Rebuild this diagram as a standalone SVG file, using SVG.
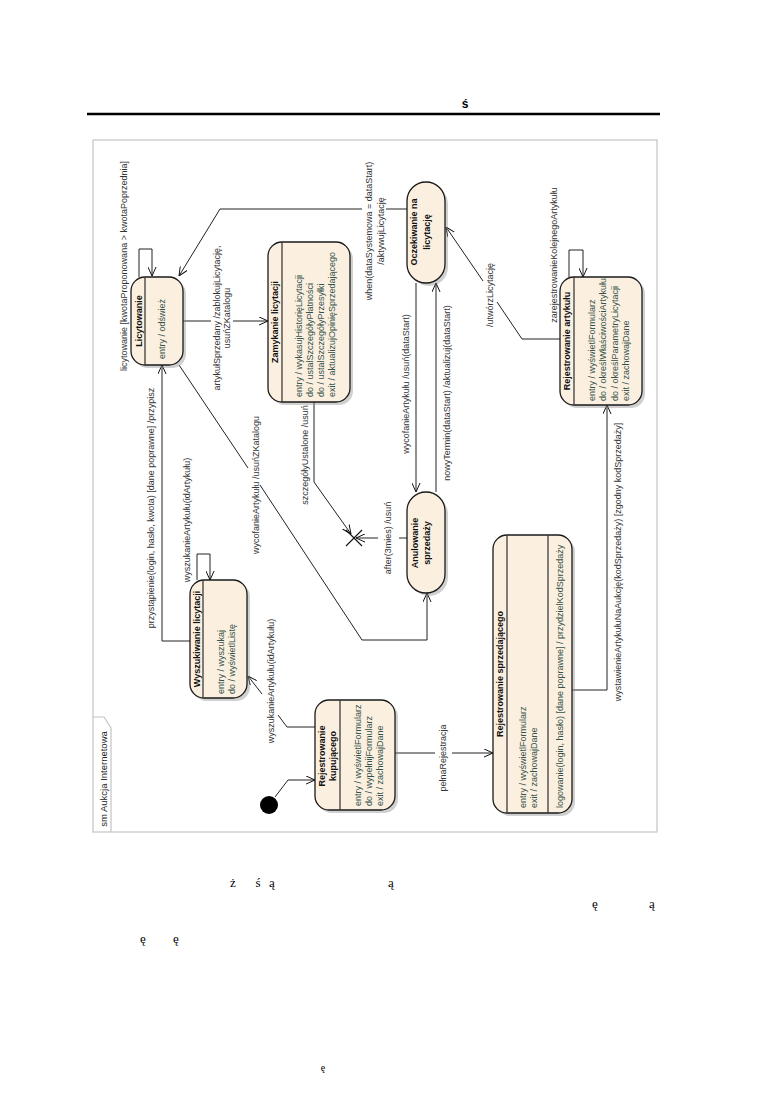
<svg xmlns="http://www.w3.org/2000/svg" width="774" height="1094" viewBox="0 0 774 1094">
<defs>
<style>
.st{fill:#FBF0E0;stroke:#1a1a1a;stroke-width:1.3}
.sh{fill:#8a8a8a;opacity:.4}
.dv{stroke:#1a1a1a;stroke-width:1.1}
.nm{font-family:"Liberation Sans",Arial,sans-serif;font-size:9px;font-weight:bold;fill:#111}
.ac{font-family:"Liberation Sans",Arial,sans-serif;font-size:9px;fill:#35524a}
.lb{font-family:"Liberation Sans",Arial,sans-serif;font-size:9px;fill:#333}
.cn{fill:none;stroke:#222;stroke-width:1}
.ar{marker-end:url(#arr)}
.pg{font-family:"Liberation Serif","Times New Roman",serif;font-size:13px;fill:#000}
.c{text-anchor:middle;dominant-baseline:central}
.s{text-anchor:start;dominant-baseline:central}
</style>
<marker id="arr" viewBox="0 0 10 10" refX="10" refY="5" markerWidth="9" markerHeight="9" markerUnits="userSpaceOnUse" orient="auto"><path d="M0,0.5 L10,5 L0,9.5" fill="none" stroke="#111" stroke-width="1.1"/></marker>
</defs>
<rect x="0" y="0" width="774" height="1094" fill="#fff"/>

<g id="page">
<text x="465" y="108" text-anchor="middle" style="font-family:'Liberation Sans',Arial,sans-serif;font-size:12px;font-weight:bold">ś</text>
<line x1="87" y1="114" x2="660" y2="114" stroke="#000" stroke-width="2.6"/>
<text class="pg" x="233" y="887" text-anchor="middle">ż</text>
<text class="pg" x="258" y="887" text-anchor="middle">ś</text>
<text class="pg" x="272" y="887" text-anchor="middle">ą</text>
<text class="pg" x="391" y="887" text-anchor="middle">ą</text>
<text class="pg" x="595" y="908" text-anchor="middle">ę</text>
<text class="pg" x="652" y="908" text-anchor="middle">ą</text>
<text class="pg" x="143" y="943" text-anchor="middle">ę</text>
<text class="pg" x="176" y="943" text-anchor="middle">ę</text>
<text class="pg" x="323" y="1071" text-anchor="middle" style="font-size:10px">ę</text>
</g>

<g id="frame">
<rect x="93" y="140" width="564" height="692" fill="none" stroke="#c4c4c4" stroke-width="1.2"/>
<polyline points="93,717 104,717 111,728 111,832" fill="none" stroke="#c4c4c4" stroke-width="1.2"/>
<text class="lb c" transform="translate(103,779) rotate(-90)" style="font-size:9.5px;fill:#222">sm Aukcja Internetowa</text>
</g>

<g id="connectors">
<path class="cn ar" d="M139,277 L139,249 L152,249 L152,276"/>
<text class="lb c" transform="translate(124,266) rotate(-90)">licytowanie [kwotaProponowana &gt; kwotaPoprzednia]</text>
<path class="cn" d="M407,209 L386,209"/>
<path class="cn ar" d="M362,209 L220,209 L179,276"/>
<text class="lb c" transform="translate(369,231) rotate(-90)">when(dataSystemowa = dataStart)</text>
<text class="lb c" transform="translate(381,231) rotate(-90)">/aktywujLicytację</text>
<path class="cn" d="M183,321 L211,321"/>
<path class="cn ar" d="M233,321 L268,321"/>
<text class="lb c" transform="translate(217,318) rotate(-90)">artykułSprzedany /zablokujLicytację,</text>
<text class="lb c" transform="translate(227,318) rotate(-90)">usuńZKatalogu</text>
<path class="cn ar" d="M190,641 L162,641 L162,365"/>
<text class="lb c" transform="translate(151,508) rotate(-90)">przystąpienie(login, hasło, kwota) [dane poprawne] /przypisz</text>
<path class="cn ar" d="M197,580 L197,554 L210,554 L210,580"/>
<text class="lb c" transform="translate(187,520) rotate(-90)">wyszukanieArtykułu(idArtykułu)</text>
<path class="cn" d="M315,727 L287,727 L278,715"/>
<path class="cn ar" d="M262,694 L248,676"/>
<text class="lb c" transform="translate(271,681) rotate(-90)">wyszukanieArtykułu(idArtykułu)</text>
<path class="cn ar" d="M275,797 L288,780 L315,780"/>
<path class="cn" d="M395,753 L435,753"/>
<path class="cn ar" d="M452,753 L493,753"/>
<text class="lb c" transform="translate(443,758) rotate(-90)">pełnaRejestracja</text>
<path class="cn ar" d="M572,690 L607,690 L607,405"/>
<text class="lb c" transform="translate(618,562) rotate(-90)">wystawienieArtykułuNaAukcję(kodSprzedaży) [zgodny kodSprzedaży]</text>
<path class="cn ar" d="M569,277 L569,250 L583,250 L583,277"/>
<text class="lb c" transform="translate(554,255) rotate(-90)">zarejestrowanieKolejnegoArtykułu</text>
<path class="cn" d="M560,339 L522,339 L497,302"/>
<path class="cn ar" d="M483,281 L446,227"/>
<text class="lb c" transform="translate(490,295) rotate(-90)">/utwórzLicytację</text>
<path class="cn ar" d="M416,283 L416,492"/>
<text class="lb c" transform="translate(406,384) rotate(-90)">wycofanieArtykułu /usuń(dataStart)</text>
<path class="cn ar" d="M436,492 L436,283"/>
<text class="lb c" transform="translate(447,393) rotate(-90)">nowyTermin(dataStart) /aktualizuj(dataStart)</text>
<path class="cn" d="M407,538 L399,538"/>
<path class="cn ar" d="M378,538 L356,538"/>
<text class="lb c" transform="translate(388,538) rotate(-90)">after(3mies) /usuń</text>
<path class="cn ar" d="M314,402 L314,482 L351,534"/>
<text class="lb c" transform="translate(305,455) rotate(-90)">szczegółyUstalone /usuń</text>
<path class="cn" d="M179,365 L248,468"/>
<path class="cn ar" d="M260,485 L362,640 L427,640 L427,593"/>
<text class="lb c" transform="translate(256,485) rotate(-90)">wycofanieArtykułu /usuńZKatalogu</text>
</g>

<g id="initial">
<circle cx="269" cy="805" r="9" fill="#000"/>
</g>

<g id="terminate">
<line x1="346" y1="530" x2="362" y2="546" stroke="#111" stroke-width="1.1"/>
<line x1="346" y1="546" x2="362" y2="530" stroke="#111" stroke-width="1.1"/>
</g>

<g id="licytowanie">
<rect class="sh" x="134" y="280" width="52" height="88" rx="14"/>
<rect class="st" x="131" y="277" width="52" height="88" rx="14"/>
<line class="dv" x1="145" y1="277.5" x2="145" y2="364.5"/>
<text class="nm c" transform="translate(138.5,321) rotate(-90)">Licytowanie</text>
<text class="ac s" transform="translate(162,359) rotate(-90)">entry / odśwież</text>
</g>

<g id="zamykanie">
<rect class="sh" x="271" y="245" width="82" height="160" rx="14"/>
<rect class="st" x="268" y="242" width="82" height="160" rx="14"/>
<line class="dv" x1="282" y1="242.5" x2="282" y2="401.5"/>
<text class="nm c" transform="translate(275,322) rotate(-90)">Zamykanie licytacji</text>
<text class="ac s" transform="translate(299,397) rotate(-90)">entry / wykasujHistorięLicytacji</text>
<text class="ac s" transform="translate(310,397) rotate(-90)">do / ustalSzczegółyPłatności</text>
<text class="ac s" transform="translate(321,397) rotate(-90)">do / ustalSzczegółyPrzesyłki</text>
<text class="ac s" transform="translate(332,397) rotate(-90)">exit / aktualizujOpinięSprzedającego</text>
</g>

<g id="oczekiwanie">
<rect class="sh" x="410" y="185" width="38" height="101" rx="19"/>
<rect class="st" x="407" y="182" width="38" height="101" rx="19"/>
<text class="nm c" transform="translate(414,232) rotate(-90)">Oczekiwanie na</text>
<text class="nm c" transform="translate(427,232) rotate(-90)">licytację</text>
</g>

<g id="anulowanie">
<rect class="sh" x="410" y="495" width="38" height="101" rx="19"/>
<rect class="st" x="407" y="492" width="38" height="101" rx="19"/>
<text class="nm c" transform="translate(415,543) rotate(-90)">Anulowanie</text>
<text class="nm c" transform="translate(427,543) rotate(-90)">sprzedaży</text>
</g>

<g id="wyszukiwanie">
<rect class="sh" x="193" y="583" width="57" height="118" rx="14"/>
<rect class="st" x="190" y="580" width="57" height="118" rx="14"/>
<line class="dv" x1="203" y1="580.5" x2="203" y2="697.5"/>
<text class="nm c" transform="translate(196.5,639) rotate(-90)">Wyszukiwanie licytacji</text>
<text class="ac s" transform="translate(221,694) rotate(-90)">entry / wyszukaj</text>
<text class="ac s" transform="translate(232,694) rotate(-90)">do / wyświetlListę</text>
</g>

<g id="rejestrowanie-kupujacego">
<rect class="sh" x="318" y="703" width="80" height="110" rx="14"/>
<rect class="st" x="315" y="700" width="80" height="110" rx="14"/>
<line class="dv" x1="340" y1="700.5" x2="340" y2="809.5"/>
<text class="nm c" transform="translate(322,756) rotate(-90)">Rejestrowanie</text>
<text class="nm c" transform="translate(333,756) rotate(-90)">kupującego</text>
<text class="ac s" transform="translate(358,806) rotate(-90)">entry / wyświetlFormularz</text>
<text class="ac s" transform="translate(369,806) rotate(-90)">do / wypełnijFormularz</text>
<text class="ac s" transform="translate(380,806) rotate(-90)">exit / zachowajDane</text>
</g>

<g id="rejestrowanie-sprzedajacego">
<rect class="sh" x="496" y="538" width="79" height="278" rx="14"/>
<rect class="st" x="493" y="535" width="79" height="278" rx="14"/>
<line class="dv" x1="507" y1="535.5" x2="507" y2="812.5"/>
<line class="dv" x1="548" y1="535.5" x2="548" y2="812.5"/>
<text class="nm c" transform="translate(500,674) rotate(-90)">Rejestrowanie sprzedającego</text>
<text class="ac s" transform="translate(523,808) rotate(-90)">entry / wyświetlFormularz</text>
<text class="ac s" transform="translate(534,808) rotate(-90)">exit / zachowajDane</text>
<text class="ac s" transform="translate(560,808) rotate(-90)">logowanie(login, hasło) [dane poprawne] / przydzielKodSprzedaży</text>
</g>

<g id="rejestrowanie-artykulu">
<rect class="sh" x="563" y="280" width="82" height="128" rx="14"/>
<rect class="st" x="560" y="277" width="82" height="128" rx="14"/>
<line class="dv" x1="574" y1="277.5" x2="574" y2="404.5"/>
<text class="nm c" transform="translate(567,341) rotate(-90)">Rejestrowanie artykułu</text>
<text class="ac s" transform="translate(592,401) rotate(-90)">entry / wyświetlFormularz</text>
<text class="ac s" transform="translate(603,401) rotate(-90)">do / określWłaściwościArtykułu</text>
<text class="ac s" transform="translate(615,401) rotate(-90)">do / określParametryLicytacji</text>
<text class="ac s" transform="translate(626,401) rotate(-90)">exit / zachowajDane</text>
</g>
</svg>
